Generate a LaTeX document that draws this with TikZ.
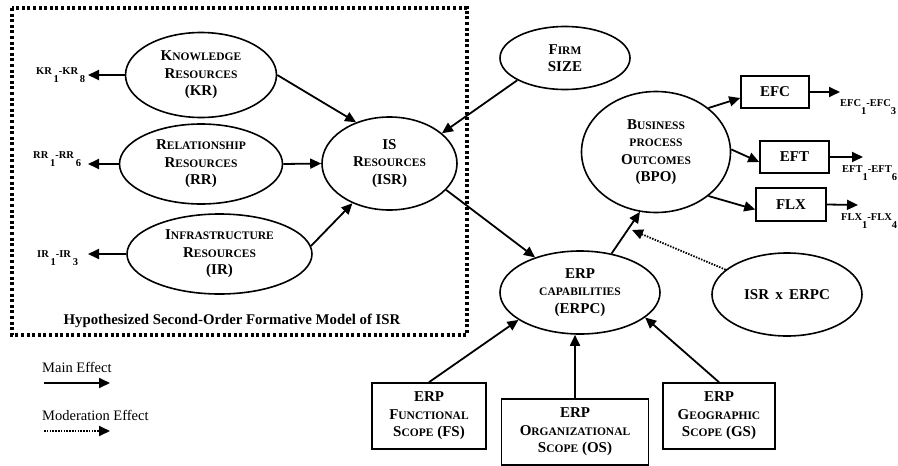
\documentclass[tikz,border=0pt]{standalone}
\usepackage{fontspec}
\setmainfont{Liberation Serif}
\usetikzlibrary{arrows.meta,shapes.geometric,calc}
% fake small capitals: smaller upper-case letters
\newcommand\lowcap[1]{{\fontsize{11.5}{17.5}\selectfont #1}}
% lowered index digit of an indicator range
\newcommand\idx[1]{\raisebox{-8pt}{#1}}
\begin{document}
\begin{tikzpicture}[x=1pt,y=-1pt,
  every node/.style={font=\bfseries\fontsize{15}{17.5}\selectfont, align=center, inner sep=0pt},
  latent/.style={ellipse, draw, line width=1.6pt},
  measure/.style={rectangle, draw, line width=1.6pt},
  effect/.style={line width=1.8pt, -{Triangle[length=11pt,width=10pt]}},
  moderation/.style={effect, dash pattern=on 1.5pt off 1.3pt},
  itemlabel/.style={anchor=base west, font=\bfseries\fontsize{10.5}{12}\selectfont},
  legendtext/.style={anchor=base west, font=\fontsize{14.5}{16}\selectfont},
]
\useasboundingbox (0,0) rectangle (898,466);

% second-order model frame
\draw[line width=3.4pt, dash pattern=on 3pt off 2.6pt] (12,8) rectangle (467,335);
\node[font=\bfseries\fontsize{14.8}{16}\selectfont, anchor=base] (boxcap) at (232,324)
  {Hypothesized Second-Order Formative Model of ISR};

% latent constructs
\node[latent, minimum width=151pt, minimum height=85pt] (kr) at (201,75)
  {K\lowcap{NOWLEDGE}\\R\lowcap{ESOURCES}\\(KR)};
\node[latent, minimum width=163pt, minimum height=80pt] (rr) at (201,164)
  {R\lowcap{ELATIONSHIP}\\R\lowcap{ESOURCES}\\(RR)};
\node[latent, minimum width=185pt, minimum height=80pt] (ir) at (219.5,254)
  {I\lowcap{NFRASTRUCTURE}\\R\lowcap{ESOURCES}\\(IR)};
\node[latent, minimum width=135pt, minimum height=93pt] (isr) at (389.5,163.5)
  {IS\\R\lowcap{ESOURCES}\\(ISR)};
\node[latent, minimum width=130pt, minimum height=63pt] (firm) at (565,58)
  {F\lowcap{IRM}\\SIZE};
\node[latent, minimum width=149pt, minimum height=121pt] (bpo) at (656,152)
  {B\lowcap{USINESS}\\\lowcap{PROCESS}\\O\lowcap{UTCOMES}\\(BPO)};
\node[latent, minimum width=160pt, minimum height=83pt] (erpc) at (580,292.5)
  {ERP\\\lowcap{CAPABILITIES}\\(ERPC)};
\node[latent, minimum width=150pt, minimum height=83pt] (ixe) at (787,294.5)
  {ISR\ \,x\ \,ERPC};

% observed measures
\node[measure, minimum width=68pt, minimum height=32pt] (efc) at (775,92) {EFC};
\node[measure, minimum width=69pt, minimum height=32pt] (eft) at (794.5,157) {EFT};
\node[measure, minimum width=70pt, minimum height=33pt] (flx) at (791,204.5) {FLX};
\node[measure, minimum width=114pt, minimum height=66pt] (fs) at (429,416)
  {ERP\\F\lowcap{UNCTIONAL}\\S\lowcap{COPE} (FS)};
\node[measure, minimum width=147pt, minimum height=66pt] (os) at (575,432)
  {ERP\\O\lowcap{RGANIZATIONAL}\\S\lowcap{COPE} (OS)};
\node[measure, minimum width=112pt, minimum height=66pt] (gs) at (719,416)
  {ERP\\G\lowcap{EOGRAPHIC}\\S\lowcap{COPE} (GS)};

% indicator ranges
\node[itemlabel] (krx) at (36,74) {KR\,\idx{1}-KR\,\idx{8}};
\node[itemlabel] (rrx) at (33,158) {RR\,\idx{1}-RR\,\idx{6}};
\node[itemlabel] (irx) at (37,257) {IR\,\idx{1}-IR\,\idx{3}};
\node[itemlabel] (efcx) at (840,106) {EFC\idx{1}-EFC\idx{3}};
\node[itemlabel] (eftx) at (842,172) {EFT\idx{1}-EFT\idx{6}};
\node[itemlabel] (flxx) at (841,220) {FLX\idx{1}-FLX\idx{4}};

\coordinate (krend) at (88,75);
\coordinate (rrend) at (88,164);
\coordinate (irend) at (88,254);
\coordinate (efcend) at (840,92);
\coordinate (eftend) at (863,157);
\coordinate (flxend) at (858,205);
\coordinate (modtip) at (632,230);

% indicator arrows
\draw[effect] (kr.west) -- (krend);
\draw[effect] (rr.west) -- (rrend);
\draw[effect] (ir.west) -- (irend);
\draw[effect] (efc.east) -- (efcend);
\draw[effect] (eft.east) -- (eftend);
\draw[effect] (flx.east) -- (flxend);

% structural paths
\draw[effect] (kr.east) -- (isr.129);
\draw[effect] (rr.east) -- (isr.west);
\draw[effect] (ir.5) -- (isr.227);
\draw[effect] (firm.205) -- (isr.30);
\draw[effect] (isr.-25) -- (erpc.142);
\draw[effect] (erpc.51) -- (bpo.255);
\draw[moderation] (ixe.158) -- (modtip);
\draw[effect] (bpo.40) -- ([yshift=-6pt]efc.west);
\draw[effect] (bpo.2) -- ([yshift=-5pt]eft.west);
\draw[effect] (bpo.-40) -- ([yshift=-5pt]flx.west);
\draw[effect] (fs.north) -- (erpc.204);
\draw[effect] (os.north) -- (os.north |- erpc.south);
\draw[effect] (gs.north) -- (erpc.-21);

% legend
\node[legendtext] (mainlbl) at (42,372) {Main Effect};
\node[legendtext] (modlbl) at (42,420) {Moderation Effect};
\coordinate (mainA) at (44,383);
\coordinate (mainB) at (110,383);
\coordinate (modA) at (44,431);
\coordinate (modB) at (110,431);
\draw[effect] (mainA) -- (mainB);
\draw[moderation] (modA) -- (modB);
\end{tikzpicture}
\end{document}
